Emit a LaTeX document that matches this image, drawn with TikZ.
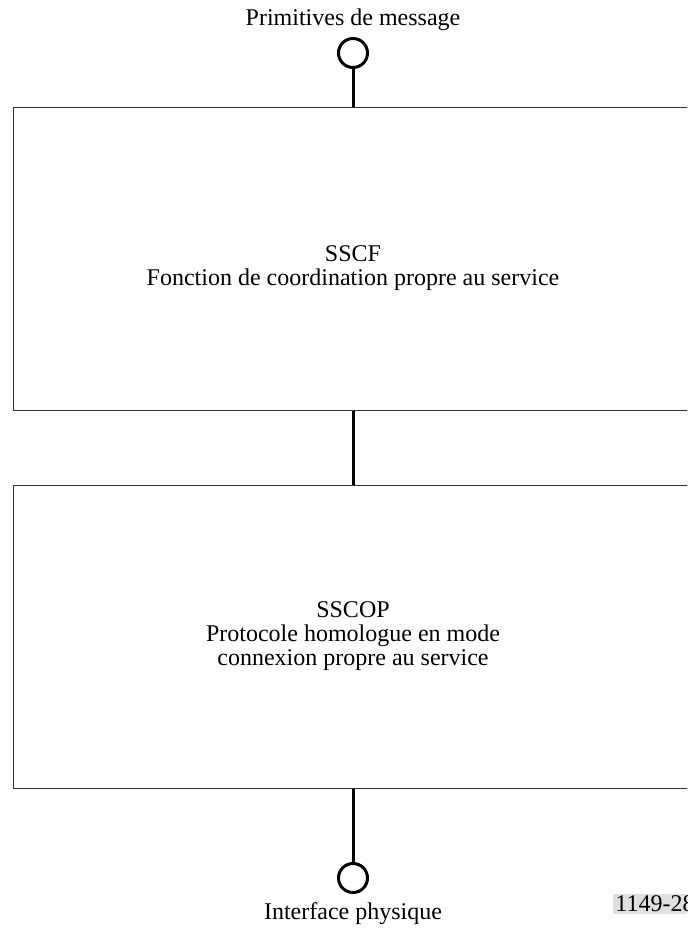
\documentclass[tikz,border=0pt]{standalone}
\usepackage{fontspec}
\setmainfont{Liberation Serif}
\tikzset{
  couche/.style={draw=black!80,line width=0.5pt,minimum width=340pt,minimum height=151.5pt,inner sep=0pt},
  port/.style={circle,draw,line width=1.5pt,minimum size=14.5pt,inner sep=0pt},
  lien/.style={line width=1.5pt},
  texte/.style={font=\fontsize{12}{12}\selectfont,align=center,inner sep=0pt}
}
\begin{document}
\begin{tikzpicture}[x=0.5pt,y=-0.5pt]
			\useasboundingbox (0,0) rectangle (687,933);
			\clip (0,0) rectangle (687,933);
			% couches
			\node [couche] (sscf) at (353,258.5) {};
			\node [couche] (sscop) at (353,636.5) {};
			\node [texte] at (353,268) {SSCF\\Fonction de coordination propre au service};
			\node [texte] at (353,636) {SSCOP\\Protocole homologue en mode\\connexion propre au service};
			% points d'acces
			\node [port] (haut) at (353,53) {};
			\node [port] (bas) at (353,878) {};
			\node [texte,above=3pt] at (haut.north) {Primitives de message};
			\node [texte,below=4pt] at (bas.south) {Interface physique};
			\draw [lien] (haut)--(sscf);
			\draw [lien] (sscf)--(sscop);
			\draw [lien] (sscop)--(bas);
			\node [texte,anchor=west,fill=black!12,inner sep=1pt] (ref) at (613,904) {1149-28};
		\end{tikzpicture}
\end{document}
